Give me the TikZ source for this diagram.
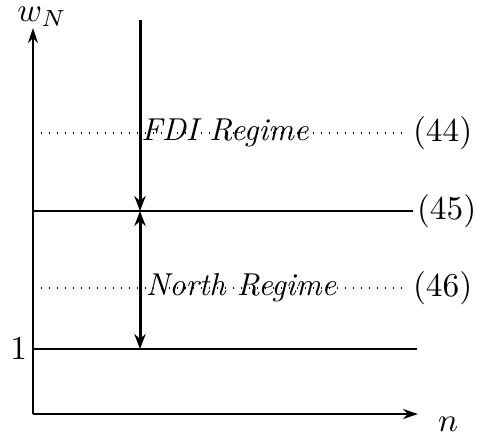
\documentclass[tikz,border=0pt]{standalone}
\usetikzlibrary{arrows.meta}
\begin{document}
\begin{tikzpicture}[x=0.3pt,y=-0.3pt,
  axis/.style={semithick,-{Stealth[length=4.5pt,width=3pt]}},
  hline/.style={semithick},
  dline/.style={dotted},
  tip/.style={Stealth[length=4.5pt,width=3.4pt]},
  varrow/.style={line width=0.9pt,-{Stealth[length=4.5pt,width=3.4pt]}},
  darrow/.style={line width=0.9pt,{Stealth[length=4.5pt,width=3.4pt]}-{Stealth[length=4.5pt,width=3.4pt]}},
  lbl/.style={inner sep=1pt},
  regime/.style={inner sep=1pt,font=\fontsize{9.5}{11}\selectfont\itshape}]
\useasboundingbox (0,0) rectangle (480,441);
\coordinate (O) at (33,414);
\coordinate (ytop) at (33,28);
\coordinate (xend) at (418,414);
\draw[axis] (O) -- (ytop);
\draw[axis] (O) -- (xend);
\node[inner sep=0pt] (wN) at (42,17) {$w_N$};
\node[lbl] (nl) at (448,424) {$n$};
\node[lbl,anchor=east] (one) at (31,349) {$1$};
% lines
\node[lbl,anchor=west] (l44) at (409,133) {$(44)$};
\node[lbl,anchor=west] (l45) at (413,211) {$(45)$};
\node[lbl,anchor=west] (l46) at (409,288) {$(46)$};
\coordinate (a44) at (33,133);
\coordinate (a45) at (33,211);
\coordinate (a46) at (33,288);
\coordinate (a1) at (33,349);
\coordinate (b1) at (417,349);
\draw[dline] (a44) -- (l44.west);
\draw[dline] (a46) -- (l46.west);
\draw[hline] (a45) -- (l45.west);
\draw[hline] (a1) -- (b1);
% vertical arrows
\coordinate (vtop) at (140,20);
\coordinate (v45) at (140,211);
\coordinate (v1) at (140,349);
\draw[varrow] (vtop) -- (v45);
\draw[darrow] (v45) -- (v1);
% regime labels
\node[regime] (fdi) at (225,133) {FDI Regime};
\node[regime] (north) at (241,288) {North Regime};
\end{tikzpicture}
\end{document}
